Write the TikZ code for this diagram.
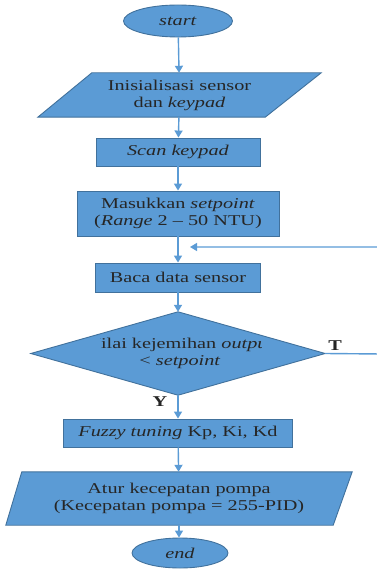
\documentclass[tikz,border=0pt]{standalone}
\usepackage{fontspec}
\setmainfont[FakeStretch=1.35]{Liberation Serif}
\usetikzlibrary{shapes.geometric,arrows.meta,calc}
\definecolor{boxfill}{HTML}{5B9BD5}
\definecolor{boxline}{HTML}{41719C}
\definecolor{arr}{HTML}{5B9BD5}
\pgfdeclarelayer{bg}
\pgfsetlayers{bg,main}
\begin{document}
\begin{tikzpicture}[x=1pt,y=-1pt,
  every node/.style={font=\fontsize{15}{17}\selectfont, text=black!85},
  box/.style={rectangle, draw=boxline, fill=boxfill, line width=0.9pt, inner sep=0pt, align=center},
  term/.style={ellipse, draw=boxline, fill=boxfill, line width=0.9pt, inner sep=0pt},
  frame/.style={rectangle, inner sep=0pt, align=center},
  shapefill/.style={draw=boxline, fill=boxfill, line width=0.9pt},
  flow/.style={draw=arr, line width=1.4pt, -{Triangle[width=8pt,length=7pt]}},
  lbl/.style={font=\fontsize{15}{17}\selectfont\bfseries}
]
\useasboundingbox (0,0) rectangle (376,580);

\node[term, minimum width=109pt, minimum height=32pt] (start) at (178,21) {\textit{start}};

\node[frame, minimum width=283pt, minimum height=44pt] (init) at (179.5,95) {Inisialisasi sensor\\dan \textit{keypad}};
\begin{pgfonlayer}{bg}
\path[shapefill] ($(init.north west)+(54,0)$) -- (init.north east) -- ($(init.south east)+(-56,0)$) -- (init.south west) -- cycle;
\end{pgfonlayer}

\node[box, minimum width=164pt, minimum height=28pt] (scan) at (178,152) {\textit{Scan keypad}};

\node[box, minimum width=202pt, minimum height=45pt] (mask) at (178,213.5) {Masukkan \textit{setpoint}\\(\textit{Range} 2 -- 50 NTU)};

\node[box, minimum width=165pt, minimum height=29pt] (baca) at (178,277.5) {Baca data sensor};

\node[frame, minimum width=294pt, minimum height=83pt] (dec) at (178,353.5) {};
\begin{pgfonlayer}{bg}
\path[shapefill] (dec.west) -- (dec.north) -- (dec.east) -- (dec.south) -- cycle;
\end{pgfonlayer}
\begin{scope}
\clip (100,330) rectangle (261,377);
\node[frame] (dectext) at (180,353.5) {Nilai kejemihan \textit{output}\\< \textit{setpoint}};
\end{scope}

\node[box, minimum width=229pt, minimum height=28pt] (fuzzy) at (178,433) {\textit{Fuzzy tuning} Kp, Ki, Kd};

\node[frame, minimum width=346pt, minimum height=53pt] (atur) at (179,498.5) {Atur kecepatan pompa\\(Kecepatan pompa = 255-PID)};
\begin{pgfonlayer}{bg}
\path[shapefill] ($(atur.north west)+(16,0)$) -- (atur.north east) -- ($(atur.south east)+(-19,0)$) -- (atur.south west) -- cycle;
\end{pgfonlayer}

\node[term, minimum width=96pt, minimum height=30pt] (end) at (180,553) {\textit{end}};

\draw[flow] (start) -- (init);
\draw[flow] (init) -- (scan);
\draw[flow] (scan) -- (mask);
\draw[flow] (mask) -- (baca);
\draw[flow] (baca) -- (dec.north);
\draw[flow] (dec.south) -- (fuzzy);
\draw[flow] (fuzzy) -- (atur);
\draw[flow] (atur.south) -- (atur.south |- end.north);

\coordinate (fbR) at (382,354);
\coordinate (fbT) at (382,247);
\coordinate (fbEnd) at (190,247);
\draw[flow] (dec.east) -- (fbR) -- (fbT) -- (fbEnd);

\node[lbl] (tlab) at (335,346) {T};
\node[lbl] (ylab) at (160,402) {Y};
\end{tikzpicture}
\end{document}
